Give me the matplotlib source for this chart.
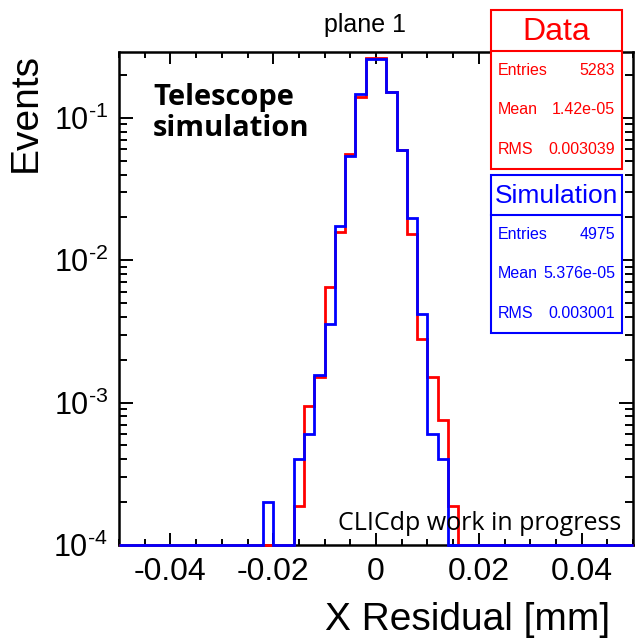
import numpy as np
import matplotlib
matplotlib.use("Agg")
import matplotlib.pyplot as plt
from matplotlib.patches import Rectangle
from matplotlib.lines import Line2D
from matplotlib.ticker import FuncFormatter, NullFormatter, MultipleLocator

# ------------------------------------------------------------
# data (fraction of entries per bin)
# ------------------------------------------------------------
bin_edges = np.linspace(-0.05, 0.05, 51)

# bins 14 .. 32 (left edges -0.022 .. 0.014), everything else is empty
first_bin = 14
data_vals = [0, 0, 0, 1.89e-4, 9.4e-4, 1.51e-3, 6.49e-3, 0.0158, 0.0557,
             0.141, 0.263, 0.263, 0.151, 0.0596, 0.0152, 2.81e-3, 1.51e-3,
             7.5e-4, 1.89e-4]
sim_vals = [2.0e-4, 0, 0, 4.0e-4, 6.0e-4, 1.57e-3, 3.54e-3, 0.0173, 0.0539,
            0.147, 0.259, 0.259, 0.153, 0.0596, 0.0197, 4.17e-3, 6.03e-4,
            4.0e-4, 0]

stat_names = ["Entries", "Mean", "RMS"]
data_stats = ["5283", "1.42e-05", "0.003039"]
sim_stats = ["4975", "5.376e-05", "0.003001"]

x_ticks = [-0.04, -0.02, 0, 0.02, 0.04]
x_ticklabels = ["-0.04", "-0.02", "0", "0.02", "0.04"]

YMIN, YMAX = 1e-4, 0.29

plt.rcParams["font.family"] = ["Liberation Sans", "DejaVu Sans"]
plt.rcParams["mathtext.fontset"] = "custom"
plt.rcParams["mathtext.rm"] = "Liberation Sans"
plt.rcParams["mathtext.it"] = "Liberation Sans:italic"
plt.rcParams["mathtext.bf"] = "Liberation Sans:bold"
plt.rcParams["axes.unicode_minus"] = False

W, H = 637, 639
fig = plt.figure(figsize=(W / 100, H / 100), dpi=100)


def fx(px):
    return px / W


def fy(py):
    return 1 - py / H


ax = fig.add_axes([fx(119), fy(545), fx(633) - fx(119), fy(52) - fy(545)])


def full_hist(vals):
    h = np.zeros(len(bin_edges) - 1)
    h[first_bin:first_bin + len(vals)] = vals
    # ROOT draws empty bins on the lower frame
    return np.where(h > 0, h, YMIN)


ax.stairs(full_hist(data_vals), bin_edges, baseline=None, color="#ff0000",
          lw=2.0, clip_on=False, zorder=3)
ax.stairs(full_hist(sim_vals), bin_edges, baseline=None, color="#0000ff",
          lw=2.0, clip_on=False, zorder=4)

ax.set_yscale("log")
ax.set_xlim(-0.05, 0.05)
ax.set_ylim(YMIN, YMAX)

ax.set_xticks(x_ticks)
ax.set_xticklabels(x_ticklabels)
ax.xaxis.set_minor_locator(MultipleLocator(0.005))


def root_pow(v, pos):
    e = int(round(np.log10(v)))
    return r"$\mathdefault{10^{\text{%d}}}$" % e


ax.yaxis.set_major_formatter(FuncFormatter(root_pow))
ax.yaxis.set_minor_formatter(NullFormatter())

for s in ax.spines.values():
    s.set_linewidth(1.8)

ax.tick_params(which="both", direction="in", top=True, right=True, width=1.4)
ax.tick_params(axis="x", which="major", length=8.6, labelsize=23, pad=9)
ax.tick_params(axis="x", which="minor", length=4.3)
ax.tick_params(axis="y", which="major", length=10, labelsize=22, pad=8)
ax.tick_params(axis="y", which="minor", length=5.5)

# axis titles
fig.text(fx(610), fy(630), "X Residual [mm]", ha="right", va="baseline",
         fontsize=28)
fig.text(fx(26), fy(53), "Events", rotation=90, ha="center", va="top",
         fontsize=28)
fig.text(fx(365), fy(32), "plane 1", ha="center", va="baseline", fontsize=18)

# annotations
fig.text(fx(153), fy(105), "Telescope", ha="left", va="baseline",
         fontsize=21, fontweight="bold", family=["Open Sans", "DejaVu Sans"])
fig.text(fx(153), fy(136), "simulation", ha="left", va="baseline",
         fontsize=21, fontweight="bold", family=["Open Sans", "DejaVu Sans"])
fig.text(fx(338), fy(530), "CLICdp work in progress", ha="left",
         va="baseline", fontsize=18, family=["Open Sans", "DejaVu Sans"])


# stats boxes
def stats_box(top, sep, bottom, title, title_size, values, color):
    left, right = 491, 622
    fig.add_artist(Rectangle((fx(left), fy(bottom)), fx(right) - fx(left),
                             fy(top) - fy(bottom), transform=fig.transFigure,
                             facecolor="white", edgecolor=color, lw=1.5,
                             zorder=5))
    fig.add_artist(Line2D([fx(left), fx(right)], [fy(sep), fy(sep)],
                          transform=fig.transFigure, color=color, lw=1.5,
                          zorder=6))
    fig.text(fx((left + right) / 2), fy((top + sep) / 2 + 1), title,
             ha="center", va="center", fontsize=title_size, color=color,
             zorder=7)
    row_h = (bottom - sep) / 3
    for i, (name, val) in enumerate(zip(stat_names, values)):
        y = sep + row_h * (i + 0.5)
        fig.text(fx(498), fy(y), name, ha="left", va="center", fontsize=11.5,
                 color=color, zorder=7)
        fig.text(fx(615), fy(y), val, ha="right", va="center", fontsize=11.5,
                 color=color, zorder=7)


stats_box(10, 51, 169, "Data", 23, data_stats, "#ff0000")
stats_box(175, 215, 333, "Simulation", 19, sim_stats, "#0000ff")

fig.savefig("out.png", dpi=100)
